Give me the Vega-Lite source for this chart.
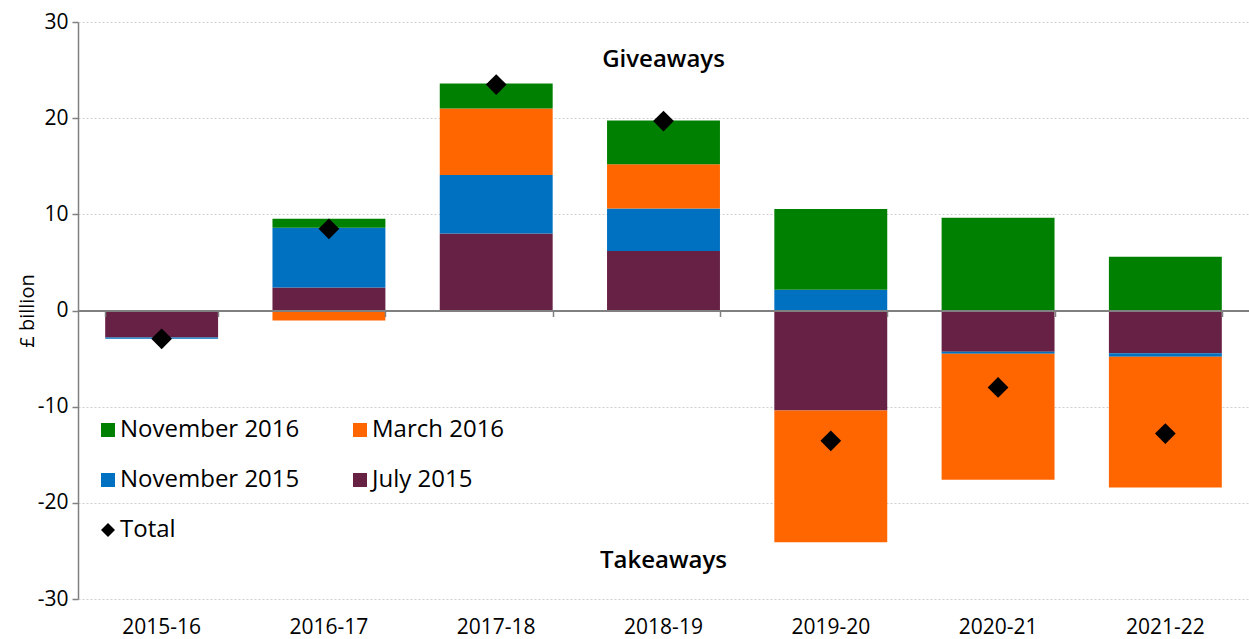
{
  "$schema": "https://vega.github.io/schema/vega-lite/v6.json",
  "width": 1171,
  "height": 577,
  "autosize": {"type": "none"},
  "padding": {"left": 78, "top": 22, "right": 0, "bottom": 40},
  "background": "white",
  "config": {"view": {"stroke": null}, "font": "Open Sans"},
  "datasets": {
    "main": [
      {"year": "2015-16", "series": "July 2015", "value": -2.8},
      {"year": "2015-16", "series": "November 2015", "value": -0.15},
      {"year": "2015-16", "series": "March 2016", "value": 0},
      {"year": "2015-16", "series": "November 2016", "value": 0},
      {"year": "2015-16", "series": "Total", "value": -2.95},
      {"year": "2016-17", "series": "July 2015", "value": 2.4},
      {"year": "2016-17", "series": "November 2015", "value": 6.2},
      {"year": "2016-17", "series": "March 2016", "value": -1.05},
      {"year": "2016-17", "series": "November 2016", "value": 0.95},
      {"year": "2016-17", "series": "Total", "value": 8.5},
      {"year": "2017-18", "series": "July 2015", "value": 8.0},
      {"year": "2017-18", "series": "November 2015", "value": 6.1},
      {"year": "2017-18", "series": "March 2016", "value": 6.9},
      {"year": "2017-18", "series": "November 2016", "value": 2.6},
      {"year": "2017-18", "series": "Total", "value": 23.5},
      {"year": "2018-19", "series": "July 2015", "value": 6.2},
      {"year": "2018-19", "series": "November 2015", "value": 4.4},
      {"year": "2018-19", "series": "March 2016", "value": 4.6},
      {"year": "2018-19", "series": "November 2016", "value": 4.55},
      {"year": "2018-19", "series": "Total", "value": 19.7},
      {"year": "2019-20", "series": "July 2015", "value": -10.4},
      {"year": "2019-20", "series": "November 2015", "value": 2.15},
      {"year": "2019-20", "series": "March 2016", "value": -13.7},
      {"year": "2019-20", "series": "November 2016", "value": 8.4},
      {"year": "2019-20", "series": "Total", "value": -13.55},
      {"year": "2020-21", "series": "July 2015", "value": -4.3},
      {"year": "2020-21", "series": "November 2015", "value": -0.2},
      {"year": "2020-21", "series": "March 2016", "value": -13.1},
      {"year": "2020-21", "series": "November 2016", "value": 9.65},
      {"year": "2020-21", "series": "Total", "value": -8.0},
      {"year": "2021-22", "series": "July 2015", "value": -4.45},
      {"year": "2021-22", "series": "November 2015", "value": -0.35},
      {"year": "2021-22", "series": "March 2016", "value": -13.6},
      {"year": "2021-22", "series": "November 2016", "value": 5.6},
      {"year": "2021-22", "series": "Total", "value": -12.8}
    ],
    "notes": [
      {"year": "2018-19", "value": 26, "label": "Giveaways"},
      {"year": "2018-19", "value": -26, "label": "Takeaways"}
    ]
  },
  "layer": [
    {
      "data": {"name": "main"},
      "transform": [
        {"filter": "datum.series !== 'Total'"},
        {"calculate": "indexof(['July 2015','November 2015','March 2016','November 2016'], datum.series)", "as": "stackorder"}
      ],
      "mark": {"type": "bar"},
      "encoding": {
        "x": {
          "field": "year", "type": "ordinal",
          "scale": {"paddingInner": 0.325, "paddingOuter": 0.1625},
          "axis": {"orient": "bottom", "title": null, "domain": false, "ticks": false, "labelAngle": 0, "labelFontSize": 21, "labelPadding": 17, "labelColor": "#000000", "grid": false}
        },
        "y": {
          "field": "value", "type": "quantitative", "stack": "zero",
          "scale": {"domain": [-30, 30], "nice": false},
          "axis": {
            "title": "£ billion", "titleFontSize": 20, "titleFontWeight": "normal", "titleColor": "#000000", "titlePadding": 0,
            "values": [-30, -20, -10, 0, 10, 20, 30],
            "labelExpr": "'' + datum.value",
            "grid": true, "gridDash": [2, 2], "gridColor": "#d0d0d0",
            "domainColor": "#808080", "domainWidth": 1.5,
            "tickColor": "#808080", "tickSize": 6, "tickWidth": 1.5,
            "labelFontSize": 21, "labelPadding": 4, "labelColor": "#000000"
          }
        },
        "color": {
          "field": "series", "type": "nominal",
          "scale": {
            "domain": ["November 2016", "November 2015", "Total", "March 2016", "July 2015"],
            "range": ["#008000", "#0070C0", "#000000", "#FF6600", "#662145"]
          },
          "legend": {
            "orient": "none", "legendX": 18, "legendY": 396, "columns": 2, "title": null, "padding": 0,
            "symbolSize": 196, "symbolType": "square", "symbolStrokeWidth": 0,
            "labelFontSize": 24, "labelColor": "#000000", "labelOffset": 0, "labelLimit": 400,
            "rowPadding": 26, "columnPadding": 48,
            "encode": {"symbols": {"update": {"shape": {"signal": "datum.value === 'Total' ? 'diamond' : 'square'"}}}}
          }
        },
        "order": {"field": "stackorder", "type": "quantitative", "sort": "ascending"}
      }
    },
    {
      "data": {"name": "main"},
      "transform": [{"filter": "datum.series === 'Total'"}],
      "mark": {"type": "point", "shape": "diamond", "filled": true, "size": 430, "color": "#000000", "opacity": 1},
      "encoding": {
        "x": {
          "field": "year", "type": "ordinal",
          "axis": {"orient": "bottom", "offset": -288.5, "title": null, "labels": false, "domain": true, "domainColor": "#808080", "domainWidth": 2, "ticks": true, "tickBand": "extent", "tickSize": 6, "tickColor": "#808080", "tickWidth": 1.5, "grid": false, "zindex": 1}
        },
        "y": {"field": "value", "type": "quantitative"}
      }
    },
    {
      "data": {"name": "notes"},
      "mark": {"type": "text", "fontSize": 24, "fontWeight": 600, "color": "#000000", "align": "center", "baseline": "middle"},
      "encoding": {
        "x": {"field": "year", "type": "ordinal", "axis": null},
        "y": {"field": "value", "type": "quantitative"},
        "text": {"field": "label"}
      }
    }
  ],
  "resolve": {"axis": {"x": "independent"}}
}
